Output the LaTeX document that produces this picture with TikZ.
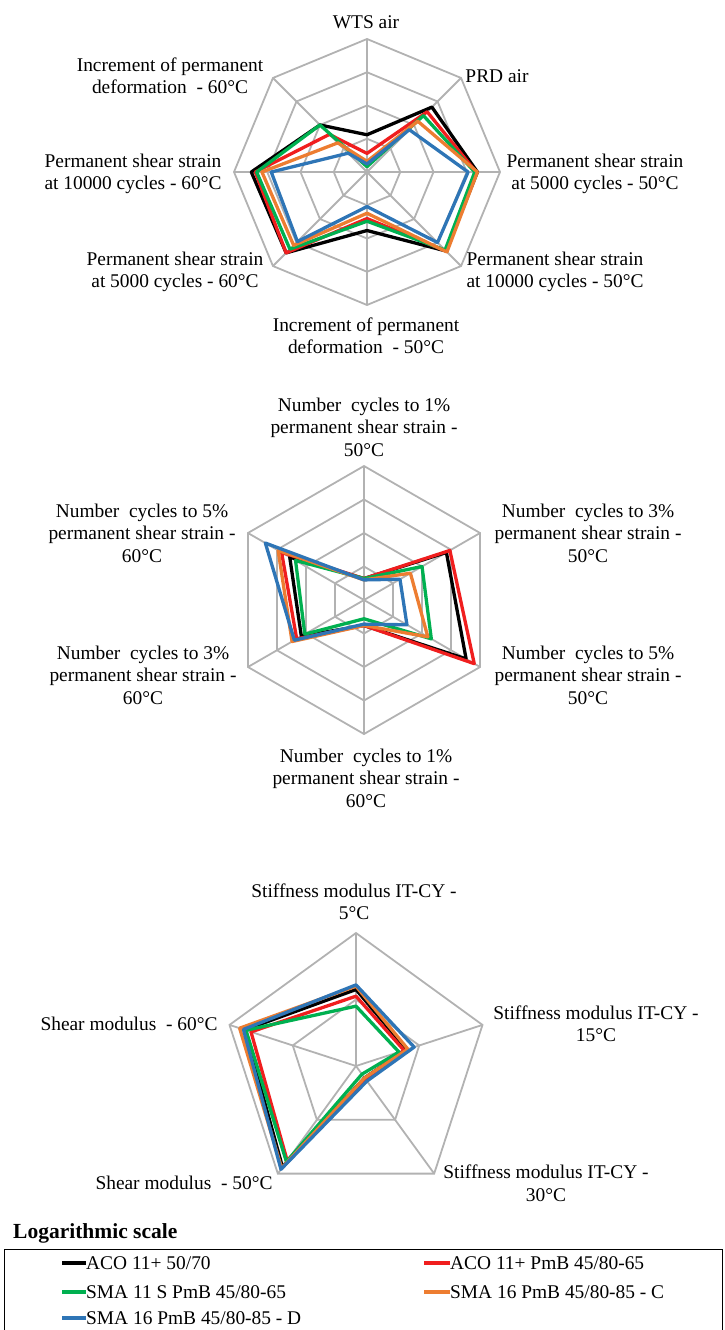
\documentclass[tikz,border=0pt]{standalone}
\usepackage{fontspec}
\setmainfont{Liberation Serif}
\definecolor{rosso}{RGB}{240,30,30}
\definecolor{verde}{RGB}{0,176,80}
\definecolor{arancio}{RGB}{237,125,49}
\definecolor{blu}{RGB}{46,117,182}
\begin{document}
\begin{tikzpicture}[x=1pt, y=1pt,
	every node/.style={font=\fontsize{19.4}{22.5}\selectfont, align=center, inner sep=0pt},
	griglia/.style={draw=gray!60, line width=1.8pt},
	serie/.style={line width=3.3pt, line join=round}]
	\useasboundingbox (0,0) rectangle (724,-1330);
	
	% Primo grafico: ottagono
	\begin{scope}[shift={(367,-172)}, scale=133]
		\foreach \r in {0.25,0.5,0.75,1}
		\draw[griglia] (90:\r) \foreach \a in {45,0,...,-225} {-- (\a:\r)} -- cycle;
		\foreach \a in {90,45,...,-225}
		\draw[griglia] (0,0) -- (\a:1);
		\draw[serie, black] (90:0.28) -- (45:0.69) -- (0:0.83) -- (-45:0.84) -- (-90:0.44) -- (-135:0.86) -- (180:0.87) -- (135:0.50) -- cycle;
		\draw[serie, rosso] (90:0.14) -- (45:0.64) -- (0:0.82) -- (-45:0.84) -- (-90:0.35) -- (-135:0.86) -- (180:0.84) -- (135:0.40) -- cycle;
		\draw[serie, verde] (90:0.04) -- (45:0.60) -- (0:0.81) -- (-45:0.83) -- (-90:0.37) -- (-135:0.82) -- (180:0.83) -- (135:0.50) -- cycle;
		\draw[serie, arancio] (90:0.08) -- (45:0.54) -- (0:0.83) -- (-45:0.85) -- (-90:0.31) -- (-135:0.78) -- (180:0.79) -- (135:0.31) -- cycle;
		\draw[serie, blu] (90:0.06) -- (45:0.45) -- (0:0.76) -- (-45:0.75) -- (-90:0.26) -- (-135:0.74) -- (180:0.72) -- (135:0.20) -- cycle;
	\end{scope}
	\node (wts) at (366,-22) {WTS air};
	\node (prd) at (497,-76) {PRD air};
	\node (pssA) at (595,-174) {Permanent shear strain\\at 5000 cycles - 50°C};
	\node (pssB) at (555,-272) {Permanent shear strain\\at 10000 cycles - 50°C};
	\node (incA) at (366,-336) {Increment of permanent\\deformation~ - 50°C};
	\node (pssC) at (175,-272) {Permanent shear strain\\at 5000 cycles - 60°C};
	\node (pssD) at (133,-174) {Permanent shear strain\\at 10000 cycles - 60°C};
	\node (incB) at (170,-76) {Increment of permanent\\deformation~ - 60°C};
	
	% Secondo grafico: esagono
	\begin{scope}[shift={(364,-600)}, scale=134]
		\foreach \r in {0.25,0.5,0.75,1}
		\draw[griglia] (90:\r) \foreach \a in {30,-30,...,-210} {-- (\a:\r)} -- cycle;
		\foreach \a in {90,30,...,-210}
		\draw[griglia] (0,0) -- (\a:1);
		\draw[serie, black] (90:0.16) -- (30:0.71) -- (-30:0.88) -- (-90:0.19) -- (-150:0.54) -- (150:0.64) -- cycle;
		\draw[serie, rosso] (90:0.16) -- (30:0.74) -- (-30:0.95) -- (-90:0.19) -- (-150:0.58) -- (150:0.71) -- cycle;
		\draw[serie, verde] (90:0.16) -- (30:0.50) -- (-30:0.58) -- (-90:0.14) -- (-150:0.51) -- (150:0.59) -- cycle;
		\draw[serie, arancio] (90:0.15) -- (30:0.40) -- (-30:0.55) -- (-90:0.19) -- (-150:0.62) -- (150:0.74) -- cycle;
		\draw[serie, blu] (90:0.15) -- (30:0.31) -- (-30:0.37) -- (-90:0.18) -- (-150:0.60) -- (150:0.85) -- cycle;
	\end{scope}
	\node (ncA) at (364,-427) {Number~ cycles to 1\%\\permanent shear strain -\\50°C};
	\node (ncB) at (588,-533) {Number~ cycles to 3\%\\permanent shear strain -\\50°C};
	\node (ncC) at (588,-675) {Number~ cycles to 5\%\\permanent shear strain -\\50°C};
	\node (ncD) at (366,-778) {Number~ cycles to 1\%\\permanent shear strain -\\60°C};
	\node (ncE) at (143,-675) {Number~ cycles to 3\%\\permanent shear strain -\\60°C};
	\node (ncF) at (142,-533) {Number~ cycles to 5\%\\permanent shear strain -\\60°C};
	
	% Terzo grafico: pentagono
	\begin{scope}[shift={(356,-1066)}, scale=133]
		\foreach \r in {0.5,1}
		\draw[griglia] (90:\r) \foreach \a in {18,-54,...,-198} {-- (\a:\r)} -- cycle;
		\foreach \a in {90,18,...,-198}
		\draw[griglia] (0,0) -- (\a:1);
		\draw[serie, black] (90:0.575) -- (18:0.40) -- (-54:0.11) -- (-126:0.94) -- (162:0.88) -- cycle;
		\draw[serie, rosso] (90:0.525) -- (18:0.38) -- (-54:0.12) -- (-126:0.88) -- (162:0.83) -- cycle;
		\draw[serie, verde] (90:0.45) -- (18:0.34) -- (-54:0.076) -- (-126:0.89) -- (162:0.87) -- cycle;
		\draw[serie, arancio] (90:0.60) -- (18:0.41) -- (-54:0.11) -- (-126:0.95) -- (162:0.92) -- cycle;
		\draw[serie, blu] (90:0.61) -- (18:0.46) -- (-54:0.14) -- (-126:0.96) -- (162:0.89) -- cycle;
	\end{scope}
	\node (smA) at (354,-902) {Stiffness modulus IT-CY -\\5°C};
	\node (smB) at (596,-1024) {Stiffness modulus IT-CY -\\15°C};
	\node (smC) at (546,-1183) {Stiffness modulus IT-CY -\\30°C};
	\node (shA) at (184,-1183) {Shear modulus~ - 50°C};
	\node (shB) at (129,-1024) {Shear modulus~ - 60°C};
	
	% Legenda
	\node[anchor=west, font=\bfseries\fontsize{21.5}{24}\selectfont] (scala) at (13,-1233) {Logarithmic scale};
	\draw[line width=1pt] (4,-1330) |- (722,-1249) -- (722,-1330);
	\node[anchor=west] (legA) at (86,-1263) {ACO 11+ 50/70};
	\node[anchor=west] (legB) at (450,-1263) {ACO 11+ PmB 45/80-65};
	\node[anchor=west] (legC) at (86,-1292) {SMA 11 S PmB 45/80-65};
	\node[anchor=west] (legD) at (450,-1292) {SMA 16 PmB 45/80-85 - C};
	\node[anchor=west] (legE) at (86,-1318) {SMA 16 PmB 45/80-85 - D};
	\draw[serie, black] (legA.west) -- ++(-24,0);
	\draw[serie, rosso] (legB.west) -- ++(-26,0);
	\draw[serie, verde] (legC.west) -- ++(-24,0);
	\draw[serie, arancio] (legD.west) -- ++(-26,0);
	\draw[serie, blu] (legE.west) -- ++(-24,0);
	
\end{tikzpicture}
\end{document}
